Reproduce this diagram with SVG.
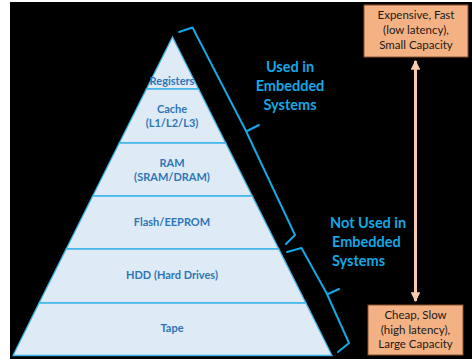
<svg xmlns="http://www.w3.org/2000/svg" width="472" height="359" viewBox="0 0 472 359">
<style>
.layer{fill:#deebf7;stroke:#3db4e6;stroke-width:1.3}
.lt{font-family:Lato,"Liberation Sans",sans-serif;font-weight:bold;font-size:11px;fill:#2e75b6;text-anchor:middle}
.side{font-family:Lato,"Liberation Sans",sans-serif;font-weight:bold;font-size:14.5px;fill:#14a8e4}
.brace{fill:none;stroke:#14a8e4;stroke-width:2;stroke-linejoin:round;stroke-linecap:round}
.box{fill:#f4b183;stroke:#8a5230;stroke-width:1}
.bt{font-family:Lato,"Liberation Sans",sans-serif;font-size:11.5px;fill:#1a1a1a;text-anchor:middle}
</style>
<defs>
<marker id="ah" viewBox="0 0 10 10" refX="9" refY="5" markerWidth="3.2" markerHeight="3.2" orient="auto-start-reverse" markerUnits="strokeWidth">
<path d="M0,0 L10,5 L0,10 z" fill="#f8cbad"/>
</marker>
</defs>
<rect x="10" y="2" width="462" height="357" fill="#000"/>
<g id="registers"><polygon class="layer" points="172.5,37 198.6,89 146.4,89"/><text class="lt" x="172" y="84.5">Registers</text></g>
<g id="cache"><polygon class="layer" points="146.4,89 198.6,89 225.7,143 119.3,143"/><text class="lt" x="172" y="113">Cache</text><text class="lt" x="172" y="127">(L1/L2/L3)</text></g>
<g id="ram"><polygon class="layer" points="119.3,143 225.7,143 252.3,196 92.7,196"/><text class="lt" x="172" y="167">RAM</text><text class="lt" x="172" y="181">(SRAM/DRAM)</text></g>
<g id="flash"><polygon class="layer" points="92.7,196 252.3,196 278.8,249 66.2,249"/><text class="lt" x="172" y="226">Flash/EEPROM</text></g>
<g id="hdd"><polygon class="layer" points="66.2,249 278.8,249 305.9,303 39.1,303"/><text class="lt" x="172" y="279">HDD (Hard Drives)</text></g>
<g id="tape"><polygon class="layer" points="39.1,303 305.9,303 332,355.5 13,355.5"/><text class="lt" x="172" y="332">Tape</text></g>
<g id="connectors">
<path class="brace" d="M179,32 L192.5,27.5 L245.5,130 M245.5,130 Q246,131.5 248,130.5 L259,125 M245.5,130 L295,235 L286,244"/>
<path class="brace" d="M287,252 L301.5,248 L326.5,293 M326.5,293 Q327,294.5 329,293.5 L339,289 M326.5,293 L349,343 L338,352"/>
<line x1="415.5" y1="61" x2="415.5" y2="301" stroke="#f8cbad" stroke-width="3" marker-start="url(#ah)" marker-end="url(#ah)"/>
</g>
<g id="used"><text class="side" text-anchor="middle"><tspan x="290" y="71.7">Used in</tspan><tspan x="290" y="90.6">Embedded</tspan><tspan x="290" y="109.5">Systems</tspan></text></g>
<g id="notused"><text class="side"><tspan x="330" y="227.7">Not Used in</tspan><tspan x="332" y="246.7">Embedded</tspan><tspan x="332" y="265.6">Systems</tspan></text></g>
<g id="fast"><rect class="box" x="364" y="5" width="104" height="52"/><text class="bt"><tspan x="416" y="19">Expensive, Fast</tspan><tspan x="416" y="34">(low latency),</tspan><tspan x="416" y="49">Small Capacity</tspan></text></g>
<g id="slow"><rect class="box" x="368" y="305" width="95" height="50"/><text class="bt"><tspan x="415.5" y="319">Cheap, Slow</tspan><tspan x="415.5" y="333.5">(high latency),</tspan><tspan x="415.5" y="347.5">Large Capacity</tspan></text></g>
</svg>
